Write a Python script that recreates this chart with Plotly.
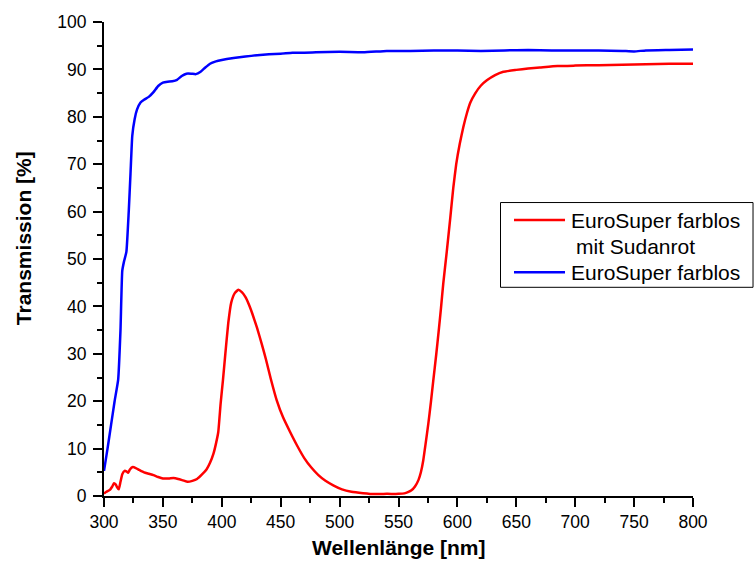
import plotly.graph_objects as go

# Wavelength [nm] and transmission [%] for "EuroSuper farblos"
wl_blue = [300, 303, 306, 309, 312, 314, 315.5, 317, 319, 321, 322.5, 324, 326, 328, 331, 334, 338,
           342, 346, 350, 354, 358, 362, 366, 370, 374, 378, 382, 386, 390, 395, 400, 410, 420,
           430, 440, 450, 460, 480, 500, 520, 540, 560, 580, 600, 620, 640, 660, 680, 700, 720,
           740, 750, 760, 780, 800]
t_blue = [5.3, 10, 15, 20, 24.5, 35, 47.5, 49.5, 51.5, 60, 68, 76, 79.5, 81.5, 83, 83.6, 84.2,
          85.2, 86.5, 87.2, 87.4, 87.5, 87.8, 88.6, 89.1, 89.1, 89.0, 89.5, 90.4, 91.2, 91.7, 92.0,
          92.4, 92.7, 93.0, 93.2, 93.3, 93.5, 93.6, 93.7, 93.6, 93.9, 93.9, 94.0, 94.0, 93.9, 94.0,
          94.1, 94.0, 94.0, 94.0, 93.9, 93.8, 94.0, 94.1, 94.2]

# Wavelength [nm] and transmission [%] for "EuroSuper farblos mit Sudanrot"
wl_red = [300, 302, 305, 307, 308.5, 310, 311, 312.5, 314, 315.5, 317.5, 319, 320.5, 322, 324.5,
          327, 330, 334, 338, 342, 346, 350, 355, 359, 363, 367, 371, 375, 379, 383, 387, 390,
          393, 395, 397, 399, 401, 403, 405.5, 408, 411, 414, 417, 420, 423, 426, 430, 434, 437.5,
          441.5, 446.5, 452, 458, 464, 470, 476, 482, 488, 495, 502, 510, 520, 530, 540, 550,
          555, 558, 561, 564, 567, 569, 571, 573, 575.3, 577.5, 579.5, 582, 584, 586, 588, 591,
          594, 596.5, 599, 602, 605, 608, 611, 615, 620, 625, 632, 639, 650, 660, 670, 685, 700,
          720, 740, 760, 780, 800]
t_red = [0.5, 0.9, 1.3, 2.0, 2.7, 2.4, 1.9, 1.4, 3.0, 4.6, 5.3, 5.2, 4.9, 5.6, 6.1,
         5.9, 5.5, 5.0, 4.7, 4.4, 4.0, 3.7, 3.7, 3.8, 3.6, 3.3, 3.0, 3.2, 3.6, 4.5, 5.6, 7.0,
         9.0, 11.0, 13.5, 19.5, 24.5, 30.0, 36.5, 40.8, 42.8, 43.5, 43.0, 42.0, 40.4, 38.4, 35.4,
         32.0, 28.8, 24.8, 20.3, 16.6, 13.5, 10.6, 8.0, 6.0, 4.4, 3.2, 2.2, 1.4, 0.9, 0.6,
         0.4, 0.45, 0.45, 0.55, 0.8, 1.2, 2.0, 3.4, 5.0, 7.5, 11.0, 15.2, 19.8, 24.3, 29.8, 34.5,
         39.5, 44.8, 51.6, 58.8, 65.0, 70.0, 74.3, 77.8, 80.7, 83.0, 84.9, 86.6, 87.7, 88.8,
         89.5, 89.9, 90.2, 90.4, 90.7, 90.8, 90.9, 91.0, 91.1, 91.2, 91.2]

x_ticks = [300, 350, 400, 450, 500, 550, 600, 650, 700, 750, 800]
y_ticks = [0, 10, 20, 30, 40, 50, 60, 70, 80, 90, 100]

name_red = "EuroSuper farblos mit Sudanrot"
legend_red_lines = ["EuroSuper farblos", "mit Sudanrot"]
name_blue = "EuroSuper farblos"
x_title = "Wellenlänge [nm]"
y_title = "Transmission [%]"

FONT = "Liberation Sans, Arial, sans-serif"
RED = "#ff0000"
BLUE = "#0000ff"

fig = go.Figure()
fig.add_trace(go.Scatter(x=wl_red, y=t_red, mode="lines", name=name_red, showlegend=False,
                         line=dict(color=RED, width=2.5, shape="spline", smoothing=0.4)))
fig.add_trace(go.Scatter(x=wl_blue, y=t_blue, mode="lines", name=name_blue, showlegend=False,
                         line=dict(color=BLUE, width=2.5, shape="spline", smoothing=0.4)))

axis_common = dict(showline=True, linecolor="black", linewidth=2, ticks="outside",
                   ticklen=9, tickwidth=2, tickcolor="black", showgrid=False, zeroline=False,
                   mirror=False, tickfont=dict(family=FONT, size=17.5, color="black"))

fig.update_xaxes(range=[300, 800], tickvals=x_ticks,
                 minor=dict(dtick=25, tick0=300, ticklen=5, tickwidth=2, tickcolor="black",
                            ticks="outside", showgrid=False),
                 **axis_common)
fig.update_yaxes(range=[0, 100], tickvals=y_ticks, ticklabelstandoff=3,
                 minor=dict(dtick=5, tick0=0, ticklen=5, tickwidth=2, tickcolor="black",
                            ticks="outside", showgrid=False),
                 **axis_common)

fig.add_annotation(text="<b>" + x_title + "</b>", xref="paper", yref="paper",
                   x=0.5, y=-0.109, xanchor="center", yanchor="middle", showarrow=False,
                   font=dict(family=FONT, size=21, color="black"))
fig.add_annotation(text="<b>" + y_title + "</b>", xref="paper", yref="paper",
                   x=-0.1375, y=0.544, xanchor="center", yanchor="middle", showarrow=False,
                   textangle=-90, font=dict(family=FONT, size=21, color="black"))

# Legend (box, line samples, labels) placed in paper coordinates
lx0, lx1, ly0, ly1 = 0.6732, 1.1019, 0.4403, 0.6191
fig.add_shape(type="rect", xref="paper", yref="paper", x0=lx0, x1=lx1, y0=ly0, y1=ly1,
              line=dict(color="black", width=1), fillcolor="white", layer="above")
fig.add_shape(type="line", xref="paper", yref="paper", x0=0.6961, x1=0.7827, y0=0.5822,
              y1=0.5822, line=dict(color=RED, width=2.5), layer="above")
fig.add_shape(type="line", xref="paper", yref="paper", x0=0.6961, x1=0.7827, y0=0.4723,
              y1=0.4723, line=dict(color=BLUE, width=2.5), layer="above")
legend_font = dict(family=FONT, size=21, color="black")
fig.add_annotation(text=legend_red_lines[0], xref="paper", yref="paper", x=0.7895, y=0.5822,
                   xanchor="left", yanchor="middle", showarrow=False, font=legend_font)
fig.add_annotation(text=legend_red_lines[1], xref="paper", yref="paper", x=0.7980, y=0.5262,
                   xanchor="left", yanchor="middle", showarrow=False, font=legend_font)
fig.add_annotation(text=name_blue, xref="paper", yref="paper", x=0.7895, y=0.4723,
                   xanchor="left", yanchor="middle", showarrow=False, font=legend_font)

fig.update_layout(
    width=755, height=565,
    margin=dict(l=104, r=62, t=19, b=69),
    paper_bgcolor="white", plot_bgcolor="white",
    showlegend=False,
)

fig.write_html("out.html")
